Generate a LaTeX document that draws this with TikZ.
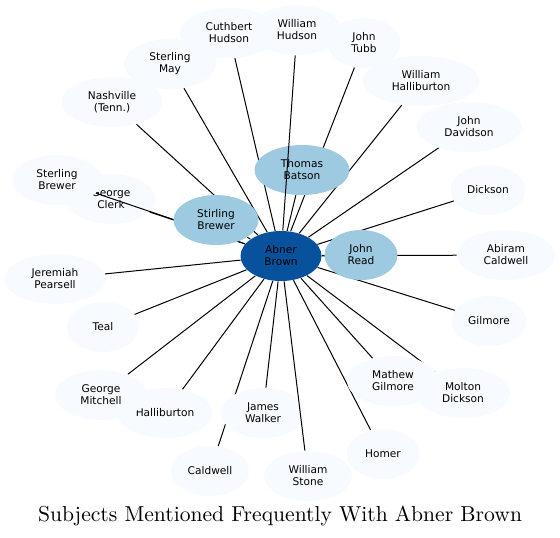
\documentclass[tikz,border=0pt]{standalone}
\usepackage{fontspec}
\newfontfamily\labelfont{DejaVu Sans}
\usetikzlibrary{shapes.geometric}

\definecolor{subjlight}{HTML}{F7FBFF}
\definecolor{subjmid}{HTML}{9ECAE1}
\definecolor{subjdark}{HTML}{08519C}

\pgfdeclarelayer{background}
\pgfdeclarelayer{foreground}
\pgfsetlayers{background,main,foreground}

\tikzset{
  subj/.style = {ellipse, fill=subjlight, draw=none, inner sep=0pt,
                 minimum height=25pt, align=center,
                 font=\labelfont\fontsize{5.3}{6}\selectfont},
  key/.style  = {subj, fill=subjmid},
  hub/.style  = {subj, fill=subjdark},
  link/.style = {draw=black, line width=0.5pt},
  ttl/.style  = {font=\fontsize{10.8}{12}\selectfont}
}

\begin{document}
\begin{tikzpicture}[x=0.5pt, y=-0.5pt]

  \useasboundingbox (0,0) rectangle (560,537);

  % ── centre and frequent partners ──────────────────────────────────────────
  \node[hub, minimum width=40.5pt] (ab) at (281,256) {Abner\\Brown};
  \node[key, minimum width=47.5pt] (tb) at (302,170) {Thomas\\Batson};
  \node[key, minimum width=42.5pt] (sb) at (216,220) {Stirling\\Brewer};
  \node[key, minimum width=36.5pt] (jr) at (361,255) {John\\Read};

  % ── outer ring (clockwise from top) ───────────────────────────────────────
  \node[subj, minimum width=49pt]   (ch)  at (229,33)  {Cuthbert\\Hudson};
  \node[subj, minimum width=44pt]   (wh)  at (297,30)  {William\\Hudson};
  \node[subj, minimum width=36.5pt] (jt)  at (364,43)  {John\\Tubb};
  \node[subj, minimum width=58.5pt] (whl) at (421,81)  {William\\Halliburton};
  \node[subj, minimum width=52.5pt] (jd)  at (469,127) {John\\Davidson};
  \node[subj, minimum width=37.5pt] (di)  at (488,190) {Dickson};
  \node[subj, minimum width=49pt]   (ac)  at (506,255) {Abiram\\Caldwell};
  \node[subj, minimum width=37.5pt] (gi)  at (489,321) {Gilmore};
  \node[subj, minimum width=46pt]   (mg)  at (393,381) {Mathew\\Gilmore};
  \node[subj, minimum width=47pt]   (md)  at (463,393) {Molton\\Dickson};
  \node[subj, minimum width=36.5pt] (ho)  at (383,454) {Homer};
  \node[subj, minimum width=44pt]   (ws)  at (308,476) {William\\Stone};
  \node[subj, minimum width=42pt]   (jw)  at (263,413) {James\\Walker};
  \node[subj, minimum width=39pt]   (ca)  at (210,471) {Caldwell};
  \node[subj, minimum width=47.5pt] (ha)  at (165,413) {Halliburton};
  \node[subj, minimum width=46pt]   (gm)  at (101,395) {George\\Mitchell};
  \node[subj, minimum width=36pt]   (te)  at (103,327) {Teal};
  \node[subj, minimum width=50.5pt] (jp)  at (55,279)  {Jeremiah\\Pearsell};
  \node[subj, minimum width=45pt]   (sbr) at (57,180)  {Sterling\\Brewer};
  \node[subj, minimum width=51pt]   (na)  at (112,102) {Nashville\\(Tenn.)};
  \node[subj, minimum width=46pt]   (sm)  at (170,64)  {Sterling\\May};

  % ── links (under the nodes, George Clerk sits below them) ─────────────────
  \begin{pgfonlayer}{background}
    \node[subj, minimum width=44.5pt] (gc) at (111,199) {George\\Clerk};
    \foreach \n in {tb,sb,jr,ch,jt,whl,jd,di,ac,gi,mg,md,ho,jw,ca,ha,gm,te,jp,sbr,gc,na,sm}
      \draw[link] (ab) -- (\n);
  \end{pgfonlayer}

  % links that cross over a node
  \begin{pgfonlayer}{foreground}
    \draw[link] (ab) -- (wh);
    \draw[link] (ab) -- (ws);
  \end{pgfonlayer}

  % ── title ─────────────────────────────────────────────────────────────────
  \node[ttl] (title) at (280,516) {Subjects Mentioned Frequently With Abner Brown};

\end{tikzpicture}
\end{document}
